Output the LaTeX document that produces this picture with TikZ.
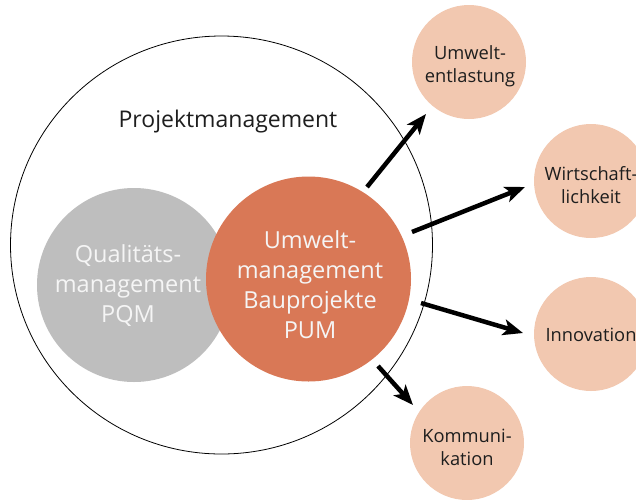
\documentclass[tikz,border=0pt]{standalone}
\usepackage{fontspec}
\setmainfont{Open Sans}
\usetikzlibrary{arrows.meta,shapes.geometric}
\definecolor{peach}{RGB}{242,200,176}
\definecolor{pumorange}{RGB}{217,120,86}
\definecolor{pqmgray}{RGB}{190,190,190}
\definecolor{darktext}{RGB}{30,30,30}
\tikzset{
  bigtext/.style={align=center, font=\fontsize{23.5}{30}\selectfont},
  smalltext/.style={align=center, font=\fontsize{18.3}{23}\selectfont, text=darktext},
  goal/.style={circle, fill=peach, minimum size=114pt, inner sep=0pt},
  bigarrow/.style={line width=4.5pt, -{Stealth[length=20pt,width=16pt,inset=5pt]}},
}
\begin{document}
\begin{tikzpicture}[x=1pt,y=-1pt]
\useasboundingbox (0,0) rectangle (636,499);
\fill[white] (0,0) rectangle (636,499);
% outer circle
\node (pm) [draw=black, line width=0.8pt, ellipse, minimum width=422pt, minimum height=418pt, inner sep=0pt] at (221.5,245) {};
\node (pmtext) [text=darktext, font=\fontsize{23}{30}\selectfont] at (228,122) {Projektmanagement};
% PQM
\node (pqm) [circle, fill=pqmgray, minimum size=194pt, inner sep=0pt] at (134,285) {};
\node (pqmtext) [bigtext, text=white!96!black] at (128,286) {Qualitäts-\\management\\PQM};
% PUM
\node (pum) [circle, fill=pumorange, minimum size=205pt, inner sep=0pt] at (308.5,279) {};
\node (pumtext) [bigtext, text=white!96!black] at (310,285) {Umwelt-\\management\\Bauprojekte\\PUM};
% goals
\node (ue) [goal] at (469,62) {};
\node (uetext) [smalltext] at (470,66) {Umwelt-\\entlastung};
\node (wi) [goal] at (591,181) {};
\node (witext) [smalltext] at (591,185) {Wirtschaft-\\lichkeit};
\node (in) [goal] at (591,334) {};
\node (intext) [smalltext] at (591,335) {Innovation};
\node (ko) [goal] at (467,443) {};
\node (kotext) [smalltext] at (467,447) {Kommuni-\\kation};
% arrows
\coordinate (a1s) at (367,187);
\coordinate (a1e) at (426,114);
\coordinate (a2s) at (412,232);
\coordinate (a2e) at (525,187);
\coordinate (a3s) at (421,303);
\coordinate (a3e) at (523,333);
\coordinate (a4s) at (378,366);
\coordinate (a4e) at (413,405);
\draw[bigarrow] (a1s) -- (a1e);
\draw[bigarrow] (a2s) -- (a2e);
\draw[bigarrow] (a3s) -- (a3e);
\draw[bigarrow] (a4s) -- (a4e);
\end{tikzpicture}
\end{document}
